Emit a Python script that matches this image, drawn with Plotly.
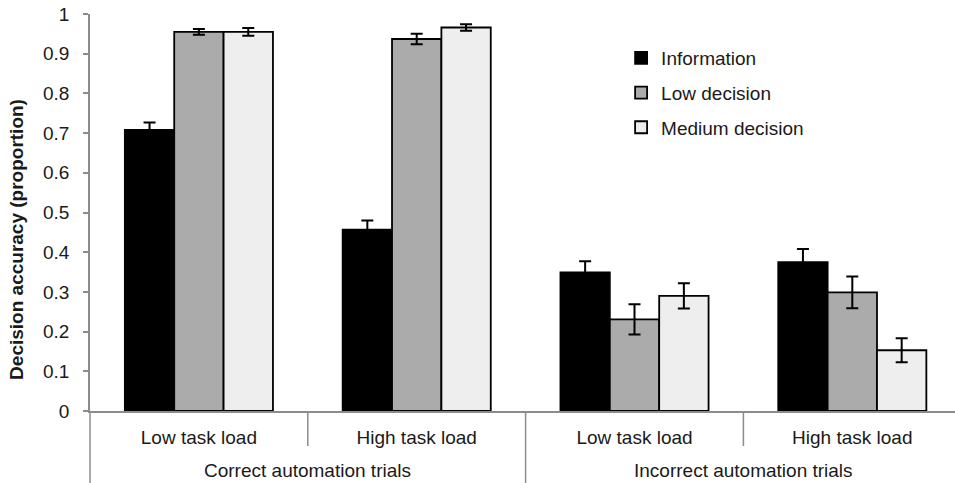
import plotly.graph_objects as go

# Task-load conditions (inner level) and automation trial type (outer level)
task_load = ["Low task load", "High task load", "Low task load", "High task load"]
trial_type = ["Correct automation trials", "Incorrect automation trials"]

# Mean decision accuracy per automation level
information = [0.708, 0.457, 0.349, 0.375]
low_decision = [0.955, 0.937, 0.231, 0.299]
medium_decision = [0.955, 0.966, 0.290, 0.153]

# Standard errors
information_se = [0.019, 0.023, 0.028, 0.033]
low_decision_se = [0.007, 0.013, 0.038, 0.040]
medium_decision_se = [0.010, 0.008, 0.032, 0.030]

y_ticks = [0, 0.1, 0.2, 0.3, 0.4, 0.5, 0.6, 0.7, 0.8, 0.9, 1]
y_tick_text = ["0", "0.1", "0.2", "0.3", "0.4", "0.5", "0.6", "0.7", "0.8", "0.9", "1"]

FONT = "Liberation Sans, Arial, Helvetica, sans-serif"
AXIS_GREY = "#8c8c8c"
TEXT = "#1a1a1a"

positions = list(range(len(task_load)))

series = [
    ("Information", information, information_se, "#000000"),
    ("Low decision", low_decision, low_decision_se, "#ababab"),
    ("Medium decision", medium_decision, medium_decision_se, "#eeeeee"),
]

fig = go.Figure()
for i, (name, vals, se, color) in enumerate(series):
    fig.add_trace(go.Bar(
        name=name,
        x=positions,
        y=vals,
        legendgroup=f"g{i}",
        marker=dict(color=color, line=dict(color="#000000", width=1.8)),
        error_y=dict(type="data", array=se, visible=True,
                     color="#000000", thickness=2, width=6),
    ))

# separators below the category axis
shapes = [
    # y axis continues down through the label rows
    dict(type="line", xref="paper", yref="paper", x0=0, x1=0, y0=-0.1814, y1=0,
         line=dict(color=AXIS_GREY, width=1.5)),
    # boundary between trial types
    dict(type="line", xref="x", yref="paper", x0=1.5, x1=1.5, y0=-0.1814, y1=0,
         line=dict(color=AXIS_GREY, width=1.5)),
]
for xb in (0.5, 2.5):
    shapes.append(dict(type="line", xref="x", yref="paper", x0=xb, x1=xb,
                       y0=-0.088, y1=0, line=dict(color=AXIS_GREY, width=1.5)))

annotations = [
    dict(text=trial_type[0], x=0.5, xref="x", y=-0.149, yref="paper",
         showarrow=False, yanchor="middle", font=dict(size=19, color=TEXT, family=FONT)),
    dict(text=trial_type[1], x=2.5, xref="x", y=-0.149, yref="paper",
         showarrow=False, yanchor="middle", font=dict(size=19, color=TEXT, family=FONT)),
    dict(text="<b>Decision accuracy (proportion)</b>", textangle=-90,
         x=(17 - 90) / 865, xref="paper", y=0.431, yref="paper",
         showarrow=False, xanchor="center", yanchor="middle",
         font=dict(size=19, color=TEXT, family=FONT)),
]

fig.update_layout(
    width=955, height=483,
    margin=dict(l=90, r=0, t=14, b=72),
    paper_bgcolor="white", plot_bgcolor="white",
    barmode="group", bargap=0.32, bargroupgap=0,
    font=dict(family=FONT, color=TEXT),
    showlegend=True,
    legend=dict(x=0.614, y=0.937, xanchor="left", yanchor="top",
                font=dict(size=19, color=TEXT, family=FONT),
                bgcolor="rgba(0,0,0,0)", tracegroupgap=7, itemwidth=30),
    shapes=shapes,
    annotations=annotations,
)

fig.update_xaxes(
    range=[-0.5, 3.4715],
    tickmode="array", tickvals=positions, ticktext=task_load,
    ticks="", tickfont=dict(size=19, color=TEXT, family=FONT),
    ticklabelstandoff=8,
    showline=True, linecolor=AXIS_GREY, linewidth=1.5,
    showgrid=False, zeroline=False, fixedrange=True,
)
fig.update_yaxes(
    range=[0, 1],
    tickmode="array", tickvals=y_ticks, ticktext=y_tick_text,
    ticks="outside", ticklen=5, tickcolor=AXIS_GREY, tickwidth=1.5,
    tickfont=dict(size=19, color=TEXT, family=FONT),
    ticklabelstandoff=10,
    showline=True, linecolor=AXIS_GREY, linewidth=1.5,
    showgrid=False, zeroline=False, fixedrange=True,
)

fig.write_html("out.html", config={"displayModeBar": False})
